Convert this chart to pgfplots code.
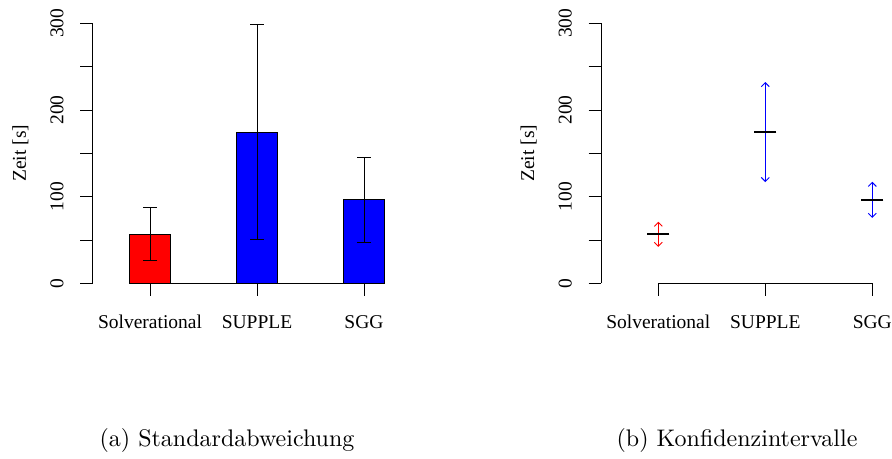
\documentclass[border=0pt]{standalone}
\usepackage{fontspec}
\newfontfamily\timesf{Liberation Serif}
\newfontfamily\capfont{lmroman10-regular.otf}
\usepackage{pgfplots}
\pgfplotsset{compat=1.18}
\usetikzlibrary{arrows.meta}

\newcommand{\lblfont}{\timesf\fontsize{19.5bp}{23bp}\selectfont}

\pgfplotsset{
  rstyle/.style={
    x=107bp, y=0.8667bp,
    xmin=-0.535, xmax=2.2, ymin=0, ymax=300,
    axis y line*=left, axis x line*=bottom,
    x axis line style={draw=none},
    y axis line style={line width=0.9bp},
    tick align=outside, major tick length=12.5bp,
    tick style={black, line width=0.9bp},
    ytick={0,50,...,300}, yticklabels={0,,100,,200,,300},
    xtick={0,1,2}, xticklabels={Solverational,SUPPLE,SGG},
    tick label style={font=\lblfont, inner sep=0pt},
    yticklabel style={rotate=90, anchor=base},
    xticklabel style={anchor=base},
    yticklabel shift=17bp,
    xticklabel shift=32.5bp,
    ylabel={Zeit [s]},
    every axis y label/.style={at={(rel axis cs:0,0.5)}, xshift=-67bp, rotate=90, anchor=base, font=\lblfont, inner sep=0pt},
    clip=false,
  }
}

\begin{document}
\begin{tikzpicture}
\path[use as bounding box] (0bp,0bp) rectangle (892bp,459bp);

% (a) Standardabweichung
\begin{axis}[rstyle, anchor=origin, at={(150bp,175.7bp)}]
\draw[line width=0.9bp] (axis cs:-0.19,0) -- (axis cs:2.19,0);
\addplot[ybar, bar width=0.383, bar shift=0pt, fill=red, draw=black, line width=0.9bp,
  error bars/.cd, y dir=both, y explicit,
  error bar style={black, line width=0.9bp},
  error mark options={rotate=90, mark size=7bp, black, line width=0.9bp}]
  coordinates {(0,56.5) +- (0,30.7)};
\addplot[ybar, bar width=0.383, bar shift=0pt, fill=blue, draw=black, line width=0.9bp,
  error bars/.cd, y dir=both, y explicit,
  error bar style={black, line width=0.9bp},
  error mark options={rotate=90, mark size=7bp, black, line width=0.9bp}]
  coordinates {(1,174.5) +- (0,124.2) (2,96.3) +- (0,49.0)};
\end{axis}

% (b) Konfidenzintervalle
\begin{axis}[rstyle, anchor=origin, at={(658.3bp,175.7bp)}]
\draw[line width=0.9bp] (axis cs:0,0) -- (axis cs:2,0);
\addplot[red, line width=0.9bp, quiver={u=\thisrow{u}, v=\thisrow{v}},
  -{Straight Barb[length=4bp, width=8bp]}] table {
x y u v
0 56.5 0 14.5
0 56.5 0 -14.5
};
\addplot[blue, line width=0.9bp, quiver={u=\thisrow{u}, v=\thisrow{v}},
  -{Straight Barb[length=4bp, width=8bp]}] table {
x y u v
1 174.5 0 57.7
1 174.5 0 -57.7
2 96.3 0 20.8
2 96.3 0 -20.8
};
\addplot[only marks, mark=-, mark size=11bp, mark options={black, line width=1.8bp}]
  coordinates {(0,56.5) (1,174.5) (2,96.3)};
\end{axis}

\node[anchor=base, inner sep=0pt, font=\capfont\fontsize{24bp}{28bp}\selectfont] at (227bp,13bp) {(a) Standardabweichung};
\node[anchor=base, inner sep=0pt, font=\capfont\fontsize{24bp}{28bp}\selectfont] at (737bp,13bp) {(b) Konfidenzintervalle};
\end{tikzpicture}
\end{document}
